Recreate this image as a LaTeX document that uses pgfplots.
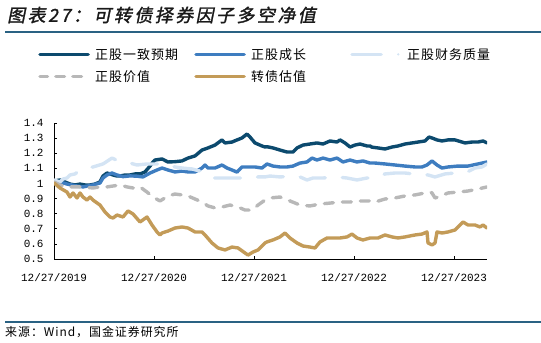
\documentclass[border=0pt]{standalone}
\usepackage{fontspec}
\usepackage{pgfplots}
\pgfplotsset{compat=1.18}
\newfontfamily\cjk[LetterSpace=8]{Noto Sans CJK SC}
\newfontfamily\cjktitle[FakeSlant=0.2,FakeBold=1.5,LetterSpace=14]{Noto Sans CJK SC}
\newfontfamily\tickfont{Liberation Mono}
\definecolor{cNavy}{HTML}{0C4A6E}
\definecolor{cBlue}{HTML}{3E7DC0}
\definecolor{cLight}{HTML}{D4E4F4}
\definecolor{cGray}{HTML}{B8B8B8}
\definecolor{cGold}{HTML}{C39B58}
\definecolor{cRule}{HTML}{2A6283}
% legend samples: solid bar, three dashes, long dash with a dot
\pgfplotsset{
  legline/.style={legend image code/.code={\path[draw=none, fill=none] (0,-2bp) rectangle (52bp,2bp);
    \draw[#1, solid, line cap=round, line width=3.3bp] (1.7bp,0) -- (50bp,0);}},
  legdash/.style={legend image code/.code={\path[draw=none, fill=none] (0,-2bp) rectangle (52bp,2bp);
    \draw[#1, solid, line cap=round, line width=3.3bp]
      (1.7bp,0) -- (9.4bp,0) (17.6bp,0) -- (26.4bp,0) (34.6bp,0) -- (43.4bp,0);}},
  legdashdot/.style={legend image code/.code={\path[draw=none, fill=none] (0,-2bp) rectangle (52bp,2bp);
    \draw[#1, solid, line cap=round, line width=3.3bp] (1.7bp,0) -- (31bp,0);
    \path[fill=#1, draw=none] (48bp,0) circle (1.3bp);}},
}
\begin{document}
\begin{tikzpicture}
\useasboundingbox (0bp,0bp) rectangle (541bp,343bp);
\node[anchor=west, text=black!90, inner sep=0pt, font=\cjktitle\fontsize{18}{20}\selectfont] at (7bp,328bp) {图表27：可转债择券因子多空净值};
\draw[cRule, line width=1.2bp] (5bp,311bp) -- (541bp,311bp);
\draw[cRule, line width=1.2bp] (5bp,21bp) -- (541bp,21bp);
\node[anchor=west, inner sep=0pt, font=\cjk\fontsize{12}{14}\selectfont] at (5bp,11bp) {来源：Wind，国金证券研究所};
\begin{axis}[
  at={(54bp,84bp)}, anchor=south west, scale only axis,
  width=433bp, height=136bp,
  xmin=0, xmax=4.33, ymin=0.5, ymax=1.4,
  ytick={0.5,0.6,0.7,0.8,0.9,1,1.1,1.2,1.3,1.4},
  xtick={0,1,2,3,4},
  xticklabels={12/27/2019,12/27/2020,12/27/2021,12/27/2022,12/27/2023},
  axis x line*=bottom, axis y line*=left,
  tick align=inside, major tick length=3bp,
  tick style={black, line width=0.6bp},
  axis line style={black, line width=0.8bp},
  tick label style={font=\tickfont\fontsize{11}{12}\selectfont},
  /pgf/number format/assume math mode=true,
  yticklabel style={xshift=-7bp},
  xticklabel style={yshift=-11bp},
  every axis plot/.append style={line width=3.4bp, line cap=round, line join=round},
  legend columns=3,
  legend style={draw=none, fill=none, at={(rel axis cs:0,1)}, anchor=north west,
    xshift=-16bp, yshift=75bp, inner sep=0pt, row sep=10bp,
    font=\cjk\fontsize{13}{14}\selectfont,
    nodes={inner sep=0pt, anchor=west},
    /tikz/every odd column/.append style={column sep=5bp}},
]
% legend entries
\addlegendimage{legline={cNavy}}
\addlegendentry{\makebox[99bp][l]{正股一致预期}}
\addlegendimage{legline={cBlue}}
\addlegendentry{\makebox[99bp][l]{正股成长}}
\addlegendimage{legdashdot={cLight}}
\addlegendentry{\makebox[99bp][l]{正股财务质量}}
\addlegendimage{legdash={cGray}}
\addlegendentry{\makebox[99bp][l]{正股价值}}
\addlegendimage{legline={cGold}}
\addlegendentry{\makebox[99bp][l]{转债估值}}
% 正股一致预期
\addplot[cNavy, forget plot] coordinates {
(0,1.016)(0.06,1.023)(0.11,1.010)(0.16,0.996)(0.21,0.990)(0.26,0.996)(0.31,0.990)(0.36,0.990)(0.41,0.996)(0.46,1.010)(0.49,1.049)(0.53,1.069)(0.56,1.063)(0.59,1.056)(0.63,1.049)(0.66,1.049)(0.71,1.056)(0.76,1.056)(0.81,1.063)(0.86,1.063)(0.91,1.076)(0.96,1.115)(0.99,1.142)(1.01,1.155)(1.08,1.162)(1.14,1.142)(1.21,1.144)(1.28,1.149)(1.34,1.168)(1.41,1.182)(1.48,1.221)(1.54,1.235)(1.61,1.254)(1.68,1.288)(1.71,1.268)(1.78,1.274)(1.83,1.288)(1.88,1.301)(1.93,1.327)(1.96,1.307)(2.01,1.268)(2.08,1.248)(2.11,1.241)(2.13,1.243)(2.19,1.235)(2.26,1.221)(2.33,1.208)(2.39,1.208)(2.43,1.235)(2.49,1.254)(2.56,1.261)(2.63,1.268)(2.69,1.261)(2.76,1.281)(2.83,1.274)(2.86,1.288)(2.91,1.268)(2.96,1.241)(3.01,1.254)(3.06,1.261)(3.13,1.248)(3.16,1.248)(3.18,1.240)(3.24,1.235)(3.31,1.228)(3.38,1.241)(3.44,1.248)(3.51,1.261)(3.58,1.268)(3.64,1.274)(3.71,1.281)(3.75,1.307)(3.78,1.301)(3.83,1.288)(3.88,1.281)(3.94,1.288)(4.01,1.288)(4.08,1.274)(4.11,1.268)(4.18,1.274)(4.24,1.274)(4.29,1.281)(4.33,1.268)};
% 正股成长
\addplot[cBlue, forget plot] coordinates {
(0,1.010)(0.06,1.010)(0.13,0.996)(0.23,0.983)(0.29,0.977)(0.39,0.990)(0.46,1.003)(0.49,1.036)(0.53,1.056)(0.58,1.069)(0.63,1.056)(0.69,1.045)(0.76,1.050)(0.83,1.048)(0.89,1.043)(0.96,1.069)(1.03,1.089)(1.08,1.102)(1.14,1.089)(1.21,1.076)(1.28,1.082)(1.34,1.076)(1.41,1.076)(1.48,1.102)(1.51,1.122)(1.54,1.102)(1.61,1.102)(1.68,1.122)(1.73,1.102)(1.78,1.089)(1.83,1.075)(1.88,1.109)(1.94,1.109)(2.01,1.109)(2.08,1.102)(2.13,1.129)(2.19,1.115)(2.26,1.109)(2.33,1.109)(2.39,1.115)(2.46,1.135)(2.53,1.142)(2.58,1.168)(2.63,1.155)(2.69,1.168)(2.76,1.155)(2.83,1.168)(2.89,1.142)(2.96,1.155)(3.03,1.142)(3.09,1.149)(3.16,1.135)(3.21,1.135)(3.31,1.129)(3.41,1.122)(3.51,1.115)(3.61,1.109)(3.68,1.109)(3.73,1.122)(3.78,1.149)(3.83,1.122)(3.88,1.102)(3.94,1.109)(4.04,1.115)(4.14,1.115)(4.24,1.129)(4.33,1.142)};
% 正股财务质量
\addplot[cLight, dash pattern=on 26bp off 17bp, forget plot] coordinates {
(0,1.023)(0.03,1.016)(0.06,1.010)(0.09,1.029)(0.13,1.036)(0.16,1.056)(0.21,1.063)(0.29,1.102)(0.39,1.109)(0.49,1.129)(0.58,1.168)(0.69,1.135)(0.76,1.135)(0.83,1.122)(0.93,1.129)(1.03,1.129)(1.11,1.129)(1.21,1.109)(1.28,1.102)(1.38,1.096)(1.53,1.069)(1.59,1.036)(1.68,1.036)(1.81,1.036)(1.94,1.036)(2.04,1.043)(2.11,1.043)(2.16,1.049)(2.26,1.043)(2.39,1.049)(2.46,1.043)(2.53,1.023)(2.59,1.036)(2.69,1.036)(2.83,1.043)(2.93,1.036)(3.03,1.023)(3.13,1.036)(3.21,1.036)(3.31,1.063)(3.41,1.069)(3.51,1.069)(3.59,1.063)(3.74,1.056)(3.81,1.043)(3.91,1.063)(4.01,1.069)(4.11,1.069)(4.21,1.102)(4.28,1.109)(4.33,1.129)};
% 正股价值
\addplot[cGray, dash pattern=on 9bp off 9bp, forget plot] coordinates {
(0,1.010)(0.06,0.990)(0.13,0.977)(0.19,0.977)(0.29,0.977)(0.39,0.970)(0.46,0.977)(0.53,0.977)(0.59,0.983)(0.66,0.990)(0.73,0.977)(0.79,0.970)(0.86,0.977)(0.93,0.943)(0.99,0.910)(1.06,0.884)(1.14,0.917)(1.21,0.930)(1.28,0.924)(1.34,0.917)(1.41,0.897)(1.48,0.877)(1.54,0.851)(1.61,0.838)(1.68,0.844)(1.76,0.857)(1.84,0.844)(1.91,0.824)(1.98,0.824)(2.04,0.857)(2.11,0.890)(2.16,0.904)(2.26,0.910)(2.36,0.884)(2.46,0.857)(2.56,0.851)(2.66,0.864)(2.76,0.870)(2.86,0.877)(2.96,0.877)(3.06,0.884)(3.16,0.884)(3.21,0.877)(3.31,0.897)(3.41,0.904)(3.51,0.917)(3.61,0.924)(3.71,0.937)(3.76,0.943)(3.78,0.937)(3.81,0.904)(3.84,0.910)(3.94,0.937)(4.04,0.943)(4.14,0.950)(4.24,0.963)(4.33,0.977)};
% 转债估值
\addplot[cGold, forget plot] coordinates {
(0,1.003)(0.06,0.970)(0.13,0.943)(0.16,0.910)(0.19,0.937)(0.23,0.904)(0.26,0.937)(0.29,0.910)(0.33,0.890)(0.36,0.910)(0.39,0.890)(0.46,0.857)(0.51,0.811)(0.56,0.778)(0.59,0.771)(0.63,0.791)(0.69,0.778)(0.74,0.818)(0.79,0.798)(0.86,0.745)(0.93,0.778)(0.98,0.725)(1.03,0.679)(1.06,0.659)(1.08,0.672)(1.14,0.685)(1.21,0.705)(1.28,0.712)(1.34,0.705)(1.41,0.679)(1.48,0.679)(1.51,0.659)(1.58,0.606)(1.64,0.573)(1.71,0.560)(1.78,0.579)(1.84,0.573)(1.91,0.540)(1.94,0.526)(1.99,0.546)(2.04,0.560)(2.11,0.606)(2.13,0.613)(2.19,0.626)(2.26,0.646)(2.31,0.672)(2.36,0.639)(2.43,0.606)(2.49,0.586)(2.56,0.579)(2.61,0.573)(2.66,0.613)(2.73,0.639)(2.79,0.639)(2.86,0.639)(2.93,0.646)(2.98,0.665)(3.03,0.639)(3.09,0.626)(3.16,0.639)(3.24,0.639)(3.31,0.659)(3.38,0.646)(3.44,0.639)(3.51,0.646)(3.61,0.659)(3.68,0.665)(3.73,0.679)(3.74,0.606)(3.78,0.593)(3.81,0.606)(3.83,0.679)(3.88,0.672)(3.94,0.679)(4.01,0.692)(4.06,0.725)(4.09,0.745)(4.14,0.725)(4.21,0.725)(4.26,0.712)(4.29,0.725)(4.33,0.705)};
\end{axis}
\end{tikzpicture}
\end{document}
